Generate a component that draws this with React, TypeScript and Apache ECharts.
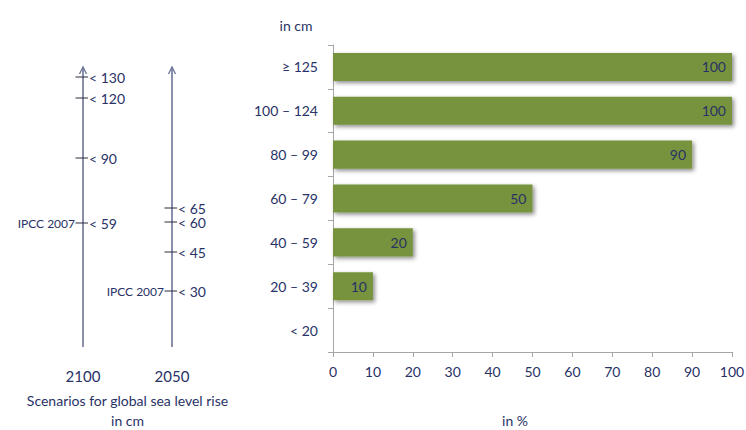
import React, { useEffect, useRef } from "react";
import * as echarts from "echarts";

// ---- data ----
const years = ["2100", "2050"];
const scen2100Labels = ["< 130", "< 120", "< 90", "< 59"];
const scen2100Levels = [130.5, 120, 90, 57.5];
const scen2100Notes = ["", "", "", "IPCC 2007"];
const scen2050Labels = ["< 65", "< 60", "< 45", "< 30"];
const scen2050Levels = [65, 58, 43, 23.5];
const scen2050Notes = ["", "", "", "IPCC 2007"];
const scaleBottom = -4.5;
const scaleTop = 135.5;

const rangeCategories = ["≥ 125", "100 – 124", "80 – 99", "60 – 79", "40 – 59", "20 – 39", "< 20"];
const rangeShares = [100, 100, 90, 50, 20, 10, 0];
const shareTicks = [0, 10, 20, 30, 40, 50, 60, 70, 80, 90, 100];

const NAVY = "#283266";
const AXIS_BLUE = "#6d7496";
const FONT = "Lato, 'Open Sans', sans-serif";

export default function App() {
  const ref = useRef<HTMLDivElement>(null);
  useEffect(() => {
    if (!ref.current) return;
    const chart = echarts.init(ref.current, null, { renderer: "svg" });

    const markData: any[] = [];
    scen2100Labels.forEach((l, i) => markData.push([0, scen2100Levels[i], l, scen2100Notes[i]]));
    scen2050Labels.forEach((l, i) => markData.push([1, scen2050Levels[i], l, scen2050Notes[i]]));

    const option: any = {
      animation: false,
      textStyle: { fontFamily: FONT },
      grid: [
        { left: 38.5, width: 178, top: 58, height: 290, outerBoundsMode: "none", containLabel: false },
        { left: 333, right: 14, top: 45, bottom: 78, outerBoundsMode: "none", containLabel: false },
      ],
      xAxis: [
        {
          gridIndex: 0,
          type: "category",
          data: years,
          axisLine: { show: false },
          axisTick: { show: false },
          axisLabel: { color: NAVY, fontSize: 15, margin: 20, fontFamily: FONT },
          name: "Scenarios for global sea level rise\nin cm",
          nameLocation: "middle",
          nameGap: 42,
          nameTextStyle: { color: NAVY, fontSize: 14, lineHeight: 20, fontFamily: FONT },
        },
        {
          gridIndex: 1,
          type: "value",
          min: 0,
          max: 100,
          interval: 10,
          splitLine: { show: false },
          axisLine: { show: true, lineStyle: { color: "#a6a6a6" } },
          axisTick: { show: true, length: 5, lineStyle: { color: "#a6a6a6" } },
          axisLabel: {
            color: NAVY,
            fontSize: 14,
            margin: 12,
            fontFamily: FONT,
            formatter: (v: number) => (shareTicks.includes(v) ? String(v) : ""),
          },
        },
      ],
      yAxis: [
        {
          gridIndex: 0,
          type: "value",
          min: -5,
          max: 140,
          show: false,
        },
        {
          gridIndex: 1,
          type: "category",
          data: rangeCategories,
          inverse: true,
          axisLine: { show: true, lineStyle: { color: "#a6a6a6" } },
          axisTick: { show: true, length: 5, lineStyle: { color: "#a6a6a6" } },
          axisLabel: { color: NAVY, fontSize: 14, margin: 15, fontFamily: FONT },
        },
      ],
      series: [
        {
          type: "custom",
          xAxisIndex: 0,
          yAxisIndex: 0,
          data: years.map((_, i) => [i, scaleBottom, scaleTop]),
          renderItem: (params: any, api: any) => {
            const b = api.coord([api.value(0), api.value(1)]);
            const t = api.coord([api.value(0), api.value(2)]);
            return {
              type: "group",
              children: [
                {
                  type: "line",
                  shape: { x1: b[0], y1: b[1], x2: t[0], y2: t[1] },
                  style: { stroke: AXIS_BLUE, lineWidth: 1.6 },
                },
                {
                  type: "polyline",
                  shape: { points: [[t[0] - 3.5, t[1] + 7], [t[0], t[1]], [t[0] + 3.5, t[1] + 7]] },
                  style: { stroke: AXIS_BLUE, lineWidth: 1.3, fill: "none" },
                },
              ],
            };
          },
        },
        {
          type: "custom",
          xAxisIndex: 0,
          yAxisIndex: 0,
          data: markData,
          renderItem: (params: any, api: any) => {
            const p = api.coord([api.value(0), api.value(1)]);
            const item = markData[params.dataIndex];
            const children: any[] = [
              {
                type: "line",
                shape: { x1: p[0] - 7.5, y1: p[1], x2: p[0] + 5, y2: p[1] },
                style: { stroke: "#2a2a3a", lineWidth: 1 },
              },
              {
                type: "text",
                x: p[0] + 6,
                y: p[1],
                style: {
                  text: item[2],
                  fill: NAVY,
                  fontSize: 14,
                  lineHeight: 12,
                  fontFamily: FONT,
                  verticalAlign: "middle",
                  align: "left",
                },
              },
            ];
            if (item[3]) {
              children.push({
                type: "text",
                x: p[0] - 8,
                y: p[1],
                style: {
                  text: item[3],
                  fill: NAVY,
                  fontSize: 12,
                  fontFamily: FONT,
                  verticalAlign: "middle",
                  align: "right",
                },
              });
            }
            return { type: "group", children };
          },
        },
        {
          type: "bar",
          xAxisIndex: 1,
          yAxisIndex: 1,
          data: rangeShares,
          barCategoryGap: "36%",
          itemStyle: {
            color: "#77933c",
            shadowColor: "rgba(0,0,0,0.45)",
            shadowBlur: 4,
            shadowOffsetX: 2,
            shadowOffsetY: 2,
          },
          label: {
            show: true,
            position: "insideRight",
            distance: 6,
            color: NAVY,
            fontSize: 14,
            fontFamily: FONT,
            formatter: (p: any) => (p.value ? String(p.value) : ""),
          },
        },
      ],
      graphic: [
        {
          type: "text",
          x: 296,
          y: 25,
          style: { text: "in cm", fill: NAVY, fontSize: 14, fontFamily: FONT, align: "center", verticalAlign: "middle" },
        },
        {
          type: "text",
          x: 515,
          y: 420,
          style: { text: "in %", fill: NAVY, fontSize: 14, fontFamily: FONT, align: "center", verticalAlign: "middle" },
        },
      ],
    };
    chart.setOption(option);
    return () => chart.dispose();
  }, []);
  return (
    <div
      ref={ref}
      style={{ position: "absolute", left: 0, top: 0, width: 746, height: 430, background: "#fff" }}
    />
  );
}
